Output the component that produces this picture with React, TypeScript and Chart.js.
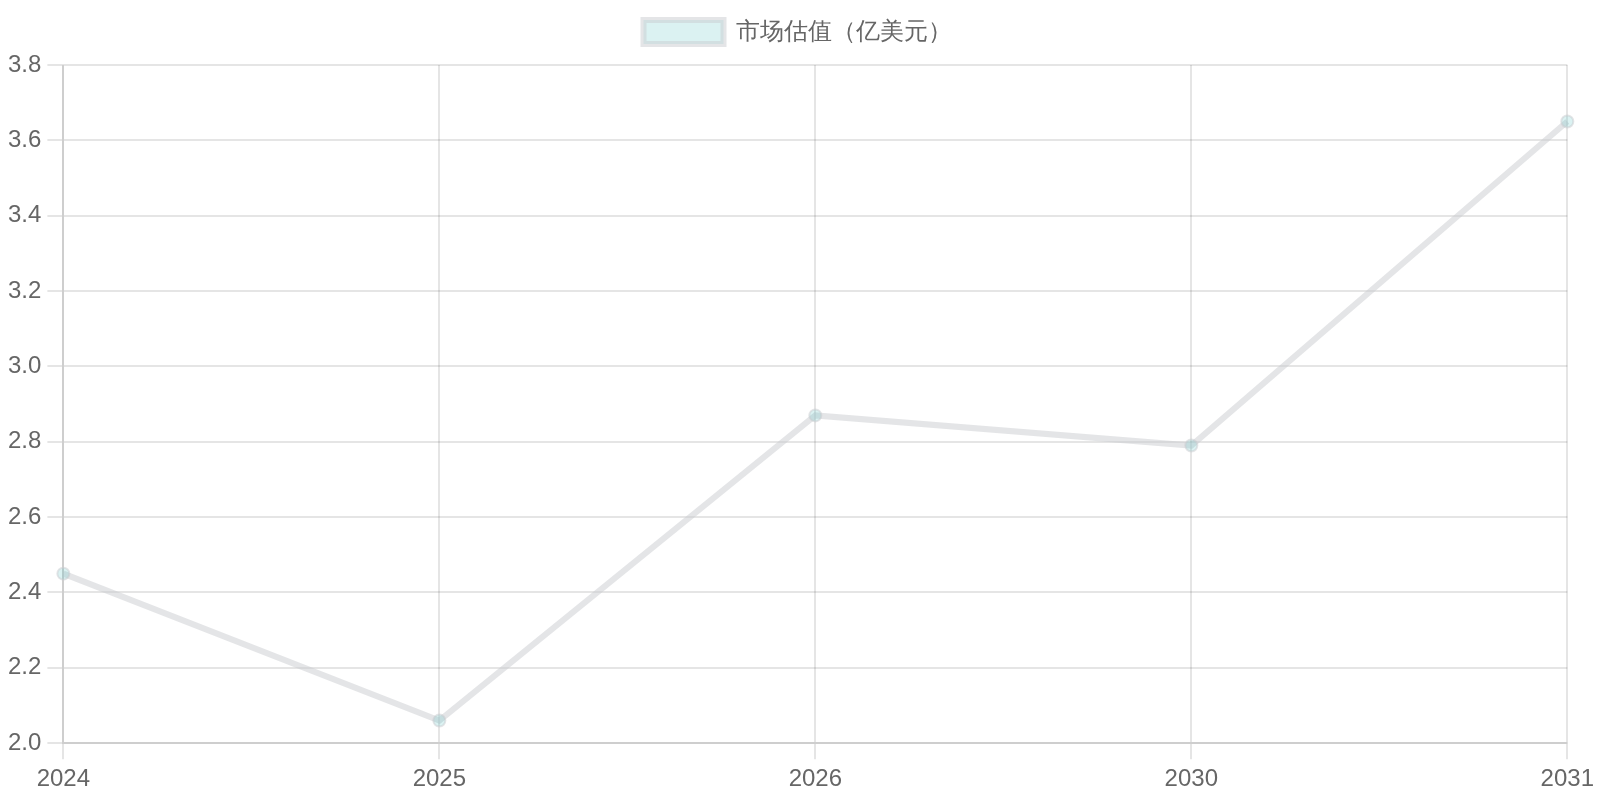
import { useEffect, useRef } from "react";
import Chart from "chart.js/auto";

// 市场估值数据
const years = ["2024", "2025", "2026", "2030", "2031"];
const valuation = [2.45, 2.06, 2.87, 2.79, 3.65];
const seriesLabel = "市场估值（亿美元）";
const yMin = 2.0;
const yMax = 3.8;
const yStep = 0.2;

// extra room under the legend
const legendSpacing = {
  id: "legendSpacing",
  beforeInit(chart: any) {
    const originalFit = chart.legend.fit;
    chart.legend.fit = function fit() {
      originalFit.bind(chart.legend)();
      this.height += 11;
    };
  },
};

const MarketChart = () => {
  const canvasRef = useRef<HTMLCanvasElement | null>(null);

  useEffect(() => {
    const ctx = canvasRef.current?.getContext("2d");
    if (!ctx) return;

    const gridColor = "rgba(0, 0, 0, 0.1)";
    const chart = new Chart(ctx, {
      type: "line",
      data: {
        labels: years,
        datasets: [
          {
            label: seriesLabel,
            data: valuation,
            backgroundColor: "rgba(75, 192, 192, 0.2)",
            borderColor: "rgba(201, 203, 207, 0.5)",
            borderWidth: 6,
            pointRadius: 6,
            pointBorderWidth: 2,
            tension: 0,
          },
        ],
      },
      options: {
        animation: false,
        responsive: true,
        maintainAspectRatio: false,
        layout: {
          padding: { top: 0, left: 2, right: 7, bottom: 0 },
        },
        plugins: {
          legend: {
            labels: {
              boxWidth: 80,
              boxHeight: 24,
              padding: 20,
              color: "#666",
              font: { size: 24 },
            },
          },
          tooltip: { enabled: false },
        },
        scales: {
          x: {
            grid: { color: gridColor, lineWidth: 2, tickLength: 16 },
            border: { color: gridColor, width: 2 },
            ticks: { color: "#666", padding: 6, font: { size: 24 } },
          },
          y: {
            min: yMin,
            max: yMax,
            grid: { color: gridColor, lineWidth: 2, tickLength: 16 },
            border: { color: gridColor, width: 2 },
            ticks: {
              stepSize: yStep,
              color: "#666",
              padding: 6,
              font: { size: 24 },
            },
          },
        },
      },
      plugins: [legendSpacing],
    });

    return () => {
      chart.destroy();
    };
  }, []);

  return (
    <div style={{ position: "relative", width: "1600px", height: "800px" }}>
      <canvas ref={canvasRef}></canvas>
    </div>
  );
};

export default function App() {
  return (
    <>
      <style>{`body { margin: 0; }`}</style>
      <MarketChart />
    </>
  );
}
